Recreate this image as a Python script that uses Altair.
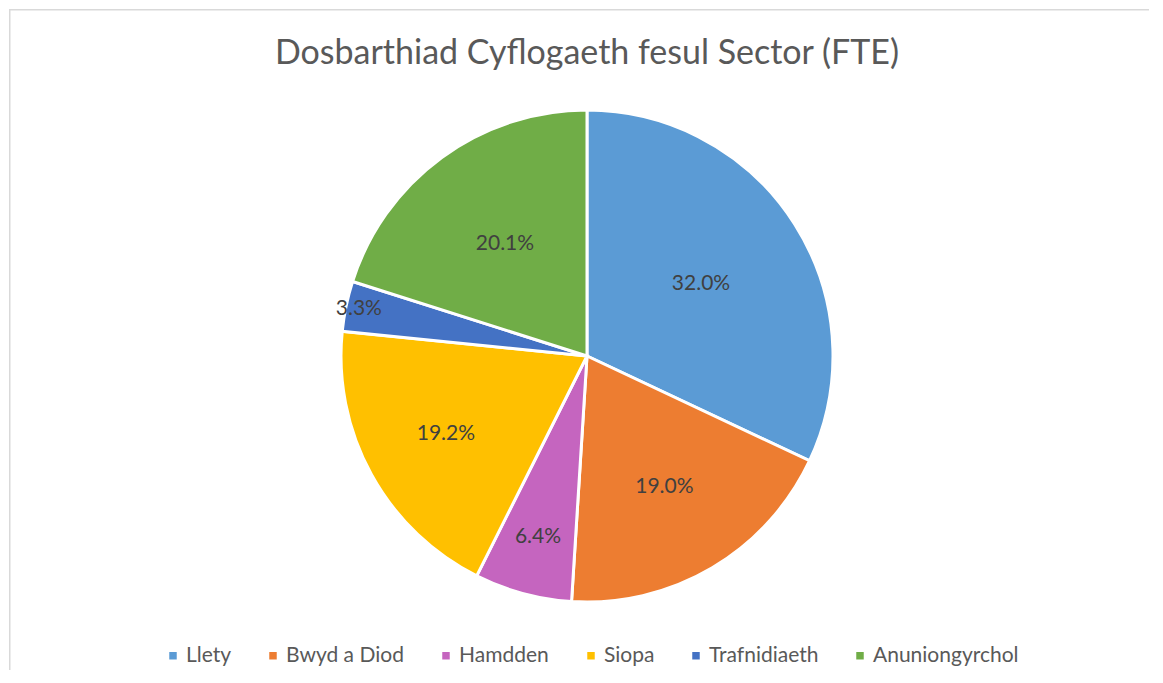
import altair as alt
import pandas as pd

sectors = ["Llety", "Bwyd a Diod", "Hamdden", "Siopa", "Trafnidiaeth", "Anuniongyrchol"]
values = [32.0, 19.0, 6.4, 19.2, 3.3, 20.1]
colors = ["#5B9BD5", "#ED7D31", "#C565BF", "#FFC000", "#4472C4", "#70AD47"]
title_text = "Dosbarthiad Cyflogaeth fesul Sector (FTE)"

# label placement distance from pie centre (px), as in the original's best-fit labels
label_radii = [135, 152, 188, 161, 233, 139]

df = pd.DataFrame({
    "sector": sectors,
    "value": values,
    "order": list(range(len(sectors))),
    "label": [f"{v:.1f}%" for v in values],
    "lr": label_radii,
})

W, H = 1140, 655
CX, CY = 578, 347
FONT = "Lato"

pie = alt.Chart(df).mark_arc(outerRadius=246, stroke="white", strokeWidth=3).encode(
    theta=alt.Theta("value:Q", stack=True),
    order=alt.Order("order:Q", sort="ascending"),
    x=alt.value(CX),
    y=alt.value(CY),
    color=alt.Color(
        "sector:N",
        scale=alt.Scale(domain=sectors, range=colors),
        sort=sectors,
        legend=alt.Legend(
            title=None,
            orient="none",
            direction="horizontal",
            legendX=153.5,
            legendY=636,
            symbolType="square",
            symbolSize=56,
            symbolStrokeWidth=0,
            labelFontSize=21,
            labelColor="#595959",
            labelFont=FONT,
            labelOffset=2.5,
            columnPadding=31,
            padding=0,
        ),
    ),
)

labels = (
    alt.Chart(df)
    .transform_joinaggregate(total="sum(value)")
    .transform_window(cum="sum(value)", sort=[alt.SortField("order", order="ascending")], frame=[None, 0])
    .transform_calculate(mid="(datum.cum - datum.value / 2) / datum.total * 2 * PI")
    .transform_calculate(
        px=f"{CX} + datum.lr * sin(datum.mid)",
        py=f"{CY} - datum.lr * cos(datum.mid)",
    )
    .mark_text(fontSize=21, color="#404040", font=FONT, baseline="middle", align="center")
    .encode(
        x=alt.X("px:Q", scale=None, axis=None),
        y=alt.Y("py:Q", scale=None, axis=None),
        text="label:N",
    )
)

title = alt.Chart(pd.DataFrame({"t": [title_text]})).mark_text(
    fontSize=34, color="#595959", font=FONT, baseline="alphabetic", align="center"
).encode(text="t:N", x=alt.value(CX), y=alt.value(55))

top_line = alt.Chart(pd.DataFrame({"a": [0]})).mark_rule(color="#d9d9d9", strokeWidth=1.5).encode(
    x=alt.value(0), x2=alt.value(W), y=alt.value(0.75)
)
left_line = alt.Chart(pd.DataFrame({"a": [0]})).mark_rule(color="#d9d9d9", strokeWidth=1.5).encode(
    x=alt.value(0.75), y=alt.value(0), y2=alt.value(H + 6)
)

chart = alt.layer(pie, labels, title, top_line, left_line).properties(
    width=W, height=H, padding=0, background="white"
).configure_view(stroke=None)

chart.save("out.html", embed_options={"renderer": "svg", "actions": False})
